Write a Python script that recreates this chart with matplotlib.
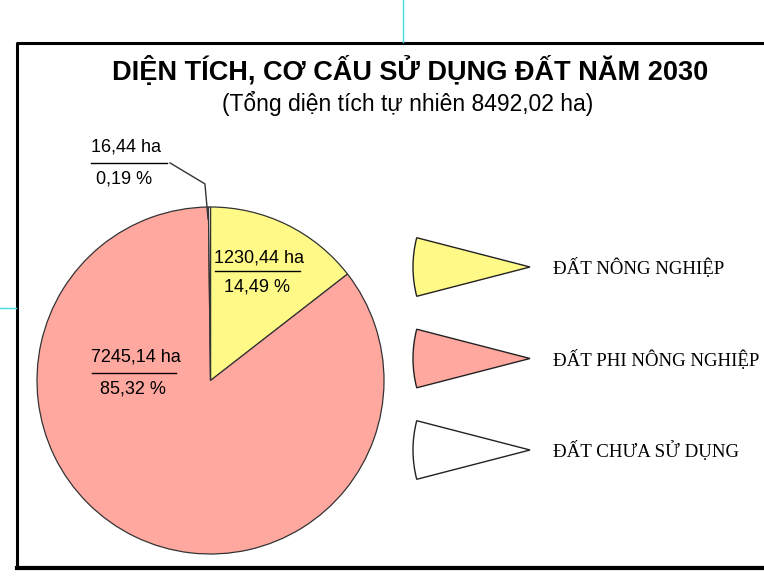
import matplotlib
matplotlib.use("Agg")
import matplotlib.pyplot as plt
from matplotlib.patches import Wedge

# data
categories = ["ĐẤT NÔNG NGHIỆP", "ĐẤT PHI NÔNG NGHIỆP", "ĐẤT CHƯA SỬ DỤNG"]
areas = [1230.44, 7245.14, 16.44]
colors = ["#FFFA88", "#FFA89F", "#FFFFFF"]
total = 8492.02

title = "DIỆN TÍCH, CƠ CẤU SỬ DỤNG ĐẤT NĂM 2030"
subtitle = "(Tổng diện tích tự nhiên {} ha)".format(f"{total:.2f}".replace(".", ","))


def vn(x):
    return f"{x:.2f}".replace(".", ",")


W, H = 764, 585
fig = plt.figure(figsize=(W / 100, H / 100), dpi=100)

# overlay axes in pixel coordinates (y down)
ov = fig.add_axes([0, 0, 1, 1])
ov.set_xlim(0, W)
ov.set_ylim(H, 0)
ov.axis("off")

# frame + stray guide lines
ov.plot([17, 17, W + 5], [568, 43, 43], color="black", lw=2.2, solid_capstyle="butt")
ov.plot([17, W + 5], [568, 568], color="black", lw=3)
ov.plot([403, 403], [0, 42], color="#40E0E8", lw=1)
ov.plot([0, 16], [308, 308], color="#40E0E8", lw=1)

ov.text(410, 71, title, ha="center", va="center", fontsize=19.5, fontweight="bold",
        family="Liberation Sans")
ov.text(408, 103, subtitle, ha="center", va="center", fontsize=16.5,
        family="Liberation Sans")

# pie
cx, cy, r = 210.5, 380.5, 173.5
ax = fig.add_axes([(cx - r) / W, (H - cy - r) / H, 2 * r / W, 2 * r / H])
ax.pie(areas, colors=colors, startangle=90, counterclock=False,
       wedgeprops=dict(edgecolor="#333333", linewidth=0.9))
ax.set_xlim(-1, 1)
ax.set_ylim(-1, 1)
ax.set_aspect("equal")
ax.axis("off")

# labels: (ha text pos, % text pos, underline x-range, underline y)
label_pos = [
    ((0.28, 0.706), (0.268, 0.539), (0.026, 0.516), 0.631),
    ((-0.43, 0.135), (-0.447, -0.049), (-0.683, -0.199), 0.043),
    ((-0.487, 1.343), (-0.499, 1.161), (-0.689, -0.251), 1.254),
]
for v, (p1, p2, (x0, x1), ly) in zip(areas, label_pos):
    ax.text(p1[0], p1[1], vn(v) + " ha", ha="center", va="center", fontsize=13,
            family="Liberation Sans", clip_on=False)
    ax.text(p2[0], p2[1], vn(v / total * 100) + " %", ha="center", va="center",
            fontsize=13, family="Liberation Sans", clip_on=False)
    ax.plot([x0, x1], [ly, ly], color="black", lw=1, clip_on=False)

# leader for the tiny slice
ax.plot([-0.233, -0.032, -0.014], [1.254, 1.133, 0.931], color="#333333", lw=1,
        clip_on=False)

# legend with wedge icons
for i, (name, c) in enumerate(zip(categories, colors)):
    yc = 267 + i * 91.5
    ov.add_patch(Wedge((530, yc), 117, 180 - 14.5, 180 + 14.5, facecolor=c,
                       edgecolor="#222222", lw=1))
    ov.text(553, yc + 1, name, ha="left", va="center", fontsize=13.6,
            family="Liberation Serif")

fig.savefig("out.png", dpi=100)
